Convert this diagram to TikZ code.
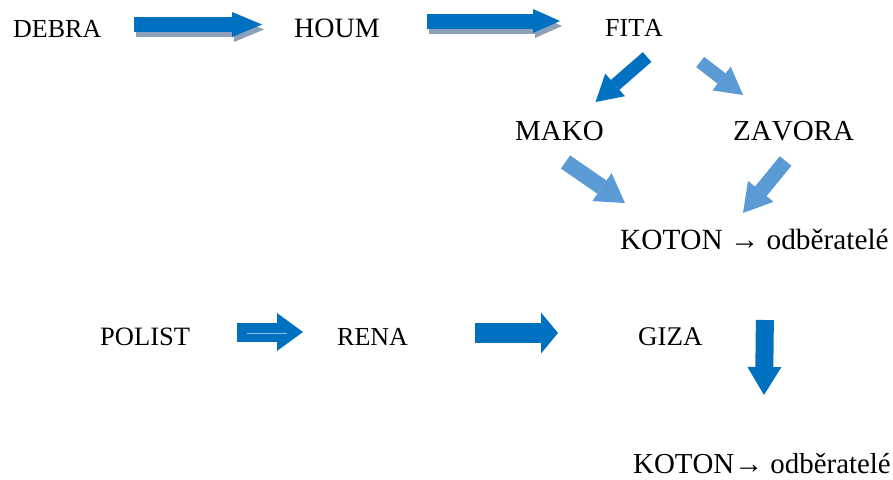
\documentclass[tikz,border=0pt]{standalone}
\usepackage{fontspec}
\setmainfont{Liberation Serif}[Kerning = Off]
\usetikzlibrary{arrows.meta}
\definecolor{darkblue}{HTML}{0070C0}
\definecolor{lightblue}{HTML}{5B9BD5}
\definecolor{shadowgrey}{HTML}{8CA0BA}
\tikzset{
	lbl/.style = {inner sep = 0, anchor = base west},
	blockarrow/.style n args = {3}{line width = #1, -{Triangle[length = #2, width = #3, line width = 0pt]}},
}
\begin{document}
\begin{tikzpicture}[x = 1pt, y = -1pt]
	\useasboundingbox (0, 0) rectangle (893, 479);
	\foreach \i/\j/\s/\name/\txt in {13/37.5/26/debra/DEBRA, 294/37/28/houm/HOUM, 605/36/26/fita/FITA,
		515/140/29/mako/MAKO, 733/140/29/zavora/ZAVORA, 620/249/29.3/kotona/{KOTON → odběratelé},
		100/345/26.5/polist/POLIST, 337/345/26/rena/RENA, 638/345/27/giza/GIZA, 633/473/28.9/kotonb/{KOTON→ odběratelé}}{
		\node[lbl, font = \fontsize{\s}{\s}\selectfont] (\name) at (\i, \j) {\txt};}
	% shadows of the top arrows
	\begin{scope}[transform canvas = {xshift = 2pt, yshift = -5pt}]
		\draw[blockarrow = {15pt}{30pt}{25pt}, shadowgrey] ([shift = {(32, -13)}]debra.base east) -- ([shift = {(-32, -12.5)}]houm.base west);
		\draw[blockarrow = {15pt}{27pt}{24pt}, shadowgrey] ([shift = {(47.5, -16)}]houm.base east) -- ([shift = {(-45, -15)}]fita.base west);
	\end{scope}
	\draw[blockarrow = {15pt}{30pt}{25pt}, darkblue] ([shift = {(32, -13)}]debra.base east) -- ([shift = {(-32, -12.5)}]houm.base west);
	\draw[blockarrow = {15pt}{27pt}{24pt}, darkblue] ([shift = {(47.5, -16)}]houm.base east) -- ([shift = {(-45, -15)}]fita.base west);
	\draw[blockarrow = {13pt}{26pt}{30pt}, darkblue] ([shift = {(13, 21)}]fita.base) -- ([shift = {(36, -38)}]mako.base);
	\draw[blockarrow = {13pt}{27pt}{30pt}, lightblue] ([shift = {(37, 26)}]fita.base east) -- ([shift = {(10, -45)}]zavora.base west);
	\draw[blockarrow = {16pt}{28pt}{34pt}, lightblue] ([shift = {(6, 22)}]mako.base) -- ([shift = {(5, -46)}]kotona.base west);
	\draw[blockarrow = {15pt}{28pt}{33pt}, lightblue] ([shift = {(-8, 21)}]zavora.base) -- ([shift = {(123, -36)}]kotona.base west);
	% lower chain
	\draw[blockarrow = {19pt}{26pt}{38pt}, darkblue] ([shift = {(47, -13)}]polist.base east) -- ([shift = {(-34, -13)}]rena.base west);
	\draw[white!55!darkblue, line width = 0.8pt] ([shift = {(57, -12)}]polist.base east) -- ([shift = {(-50, -12)}]rena.base west);
	\draw[blockarrow = {20pt}{17pt}{41pt}, darkblue] ([shift = {(67, -12)}]rena.base east) -- ([shift = {(-80, -12)}]giza.base west);
	\draw[blockarrow = {18pt}{28pt}{34pt}, darkblue] ([shift = {(62, -25)}]giza.base east) -- ([shift = {(131, -78)}]kotonb.base west);
\end{tikzpicture}
\end{document}
